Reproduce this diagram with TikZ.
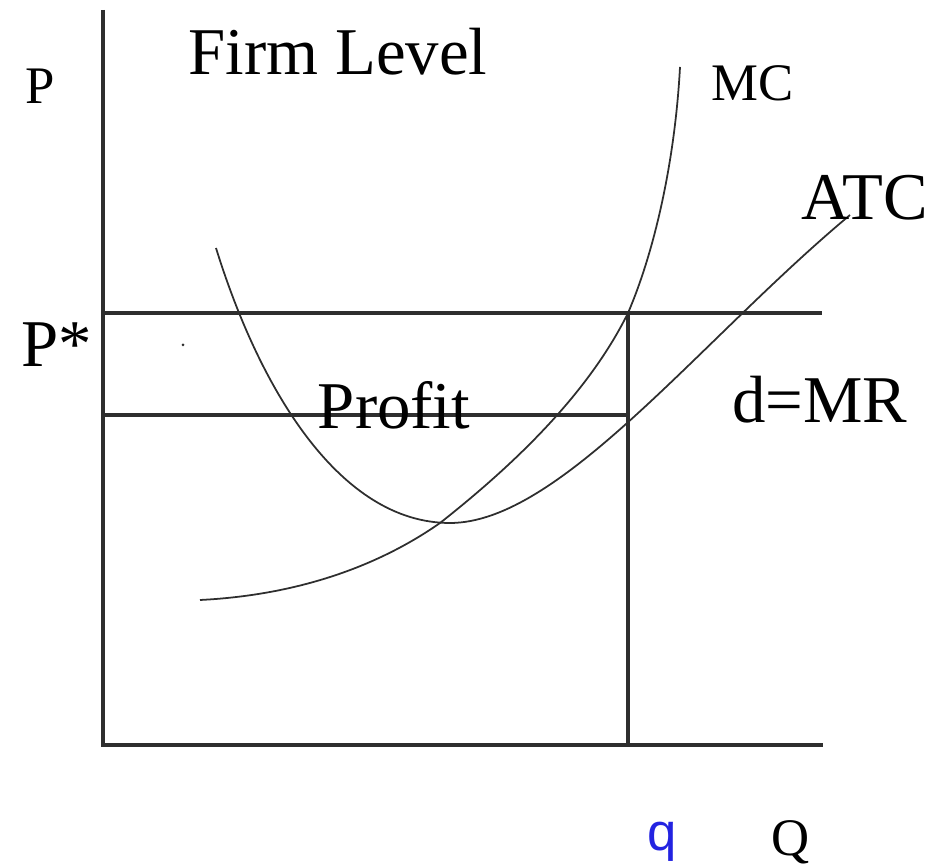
\documentclass[tikz,border=0pt]{standalone}
\usepackage{fontspec}
\setmainfont{Liberation Serif}
\newfontfamily\qfont{Liberation Sans}
\usetikzlibrary{positioning}
\definecolor{AxisGray}{HTML}{2E2E2E}
\definecolor{QBlue}{RGB}{35,35,225}

\begin{document}
\begin{tikzpicture}[x=0.01cm, y=-0.01cm,
    axisline/.style={line width=1.1pt, color=AxisGray},
    priceline/.style={line width=0.9pt, color=AxisGray},
    costcurve/.style={line width=0.5pt, color=AxisGray},
    lbl/.style={inner sep=0pt, font=\fontsize{19}{22}\selectfont}]
    \useasboundingbox (0,0) rectangle (934,868);
    % axes
    \coordinate (Top) at (103,10);
    \coordinate (O) at (103,745);
    \coordinate (Qend) at (823,745);
    \draw[axisline] (Top) -- (O) -- (Qend);
    % price and cost levels at q
    \coordinate (PstarL) at (103,313);
    \coordinate (PstarR) at (822,313);
    \coordinate (AtcL) at (103,415);
    \coordinate (MCq) at (628,313);
    \coordinate (ATCq) at (628,415);
    \coordinate (qAxis) at (628,745);
    \draw[priceline] (PstarL) -- (PstarR);
    \draw[priceline] (AtcL) -- (ATCq);
    \draw[axisline] (MCq) -- (qAxis);
    % cost curves
    \coordinate (MCstart) at (200,600);
    \coordinate (ATCmin) at (450,523);
    \coordinate (MCend) at (680,67);
    \coordinate (ATCstart) at (216,248);
    \coordinate (ATCend) at (850,215);
    \draw[costcurve] (MCstart) .. controls (300,595) and (380,565) .. (440,523)
        .. controls (520,460) and (590,390) .. (MCq)
        .. controls (655,250) and (675,160) .. (MCend);
    \draw[costcurve] (ATCstart) .. controls (260,390) and (340,523) .. (ATCmin)
        .. controls (560,523) and (700,340) .. (ATCend);
    \fill[AxisGray] (183,345) circle (1.5);
    % labels
    \node[lbl, font=\fontsize{15}{18}\selectfont] (Plbl) at (40,86) {P};
    \node[lbl, font=\fontsize{19}{23}\selectfont] (firm) at (338,52) {Firm Level};
    \node[lbl, font=\fontsize{15}{18}\selectfont] (MClbl) at (753,83) {MC};
    \node[lbl] (ATClbl) at (865,198) {ATC};
    \node[lbl] (Pstar) at (57,345) {P*};
    \node[lbl] (profit) at (394,405) {Profit};
    \node[lbl] (dMR) at (820,400) {d=MR};
    \node[lbl, anchor=base, font=\qfont\fontsize{15}{18}\selectfont, text=QBlue] (qlbl) at (662,850) {q};
    \node[lbl, anchor=base, font=\fontsize{15}{18}\selectfont] (Qlbl) at (791,855) {Q};
\end{tikzpicture}
\end{document}
